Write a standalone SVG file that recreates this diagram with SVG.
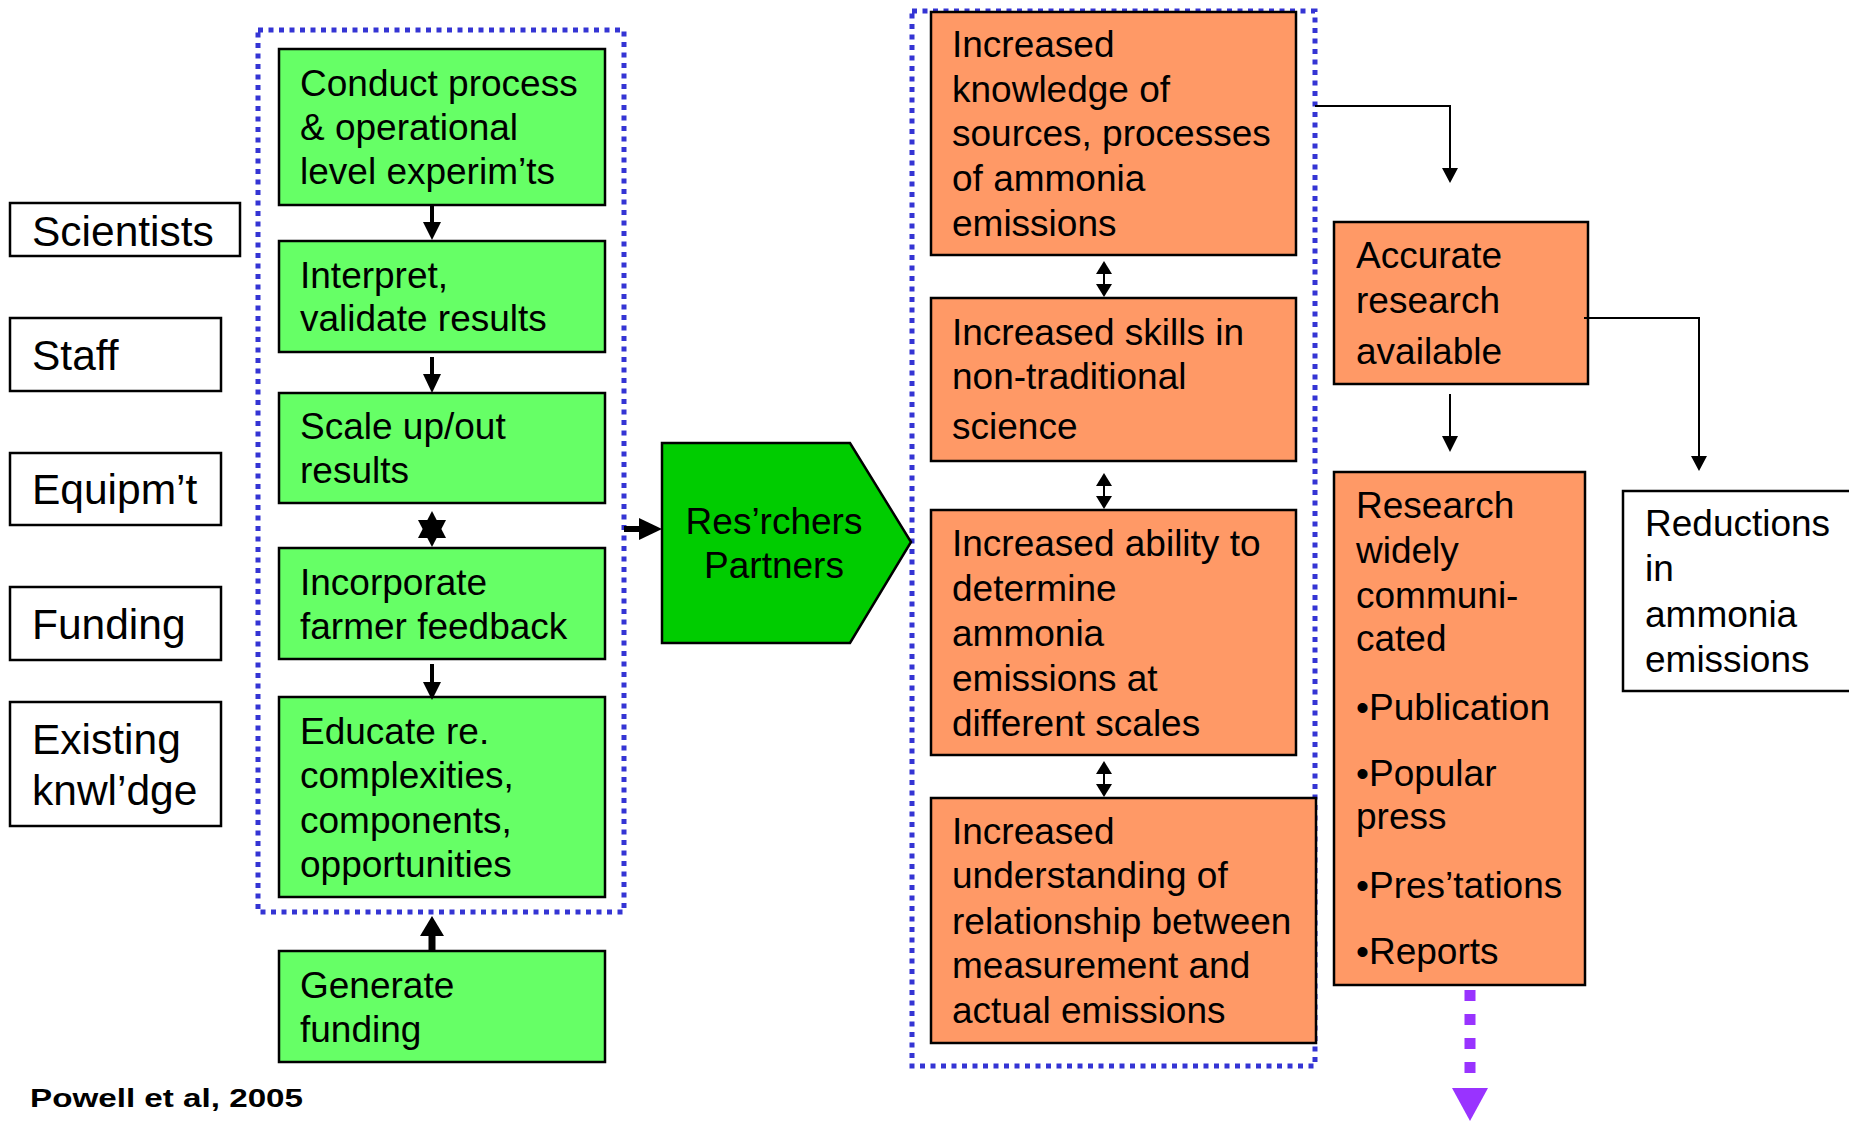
<svg xmlns="http://www.w3.org/2000/svg" width="1849" height="1121" viewBox="0 0 1849 1121">
<style>
text{font-family:"Liberation Sans",Arial,sans-serif;fill:#000}
.t{font-size:37px}
.tl{font-size:42.5px}
.g{fill:#66FF66;stroke:#000;stroke-width:2.5}
.o{fill:#FF9966;stroke:#000;stroke-width:2.5}
.w{fill:#fff;stroke:#000;stroke-width:2.5}
.dot{fill:none;stroke:#3434D4;stroke-width:5;stroke-dasharray:5 5.5}
.thin{fill:none;stroke:#000;stroke-width:2}
.thk{fill:none;stroke:#000;stroke-width:4}
.ah{fill:#000}
</style>
<rect width="1849" height="1121" fill="#fff"/>
<g id="groups">
<rect class="dot" x="258" y="30" width="366" height="882"/>
<rect class="dot" x="912" y="11" width="403" height="1055"/>
</g>
<g id="n-scientists"><rect class="w" x="10" y="203" width="230" height="53"/><text class="tl" x="32" y="246">Scientists</text></g>
<g id="n-staff"><rect class="w" x="10" y="318" width="211" height="73"/><text class="tl" x="32" y="370">Staff</text></g>
<g id="n-equip"><rect class="w" x="10" y="453" width="211" height="72"/><text class="tl" x="32" y="504">Equipm’t</text></g>
<g id="n-funding"><rect class="w" x="10" y="587" width="211" height="73"/><text class="tl" x="32" y="639">Funding</text></g>
<g id="n-existing"><rect class="w" x="10" y="702" width="211" height="124"/><text class="tl" x="32" y="754">Existing</text><text class="tl" x="32" y="805">knwl’dge</text></g>

<g id="n-conduct"><rect class="g" x="279" y="49" width="326" height="156"/><text class="t" x="300" y="96">Conduct process</text><text class="t" x="300" y="140">&amp; operational</text><text class="t" x="300" y="184">level experim’ts</text></g>
<g id="n-interpret"><rect class="g" x="279" y="241" width="326" height="111"/><text class="t" x="300" y="288">Interpret,</text><text class="t" x="300" y="331">validate results</text></g>
<g id="n-scale"><rect class="g" x="279" y="393" width="326" height="110"/><text class="t" x="300" y="439">Scale up/out</text><text class="t" x="300" y="483">results</text></g>
<g id="n-incorp"><rect class="g" x="279" y="548" width="326" height="111"/><text class="t" x="300" y="595">Incorporate</text><text class="t" x="300" y="639">farmer feedback</text></g>
<g id="n-educate"><rect class="g" x="279" y="697" width="326" height="200"/><text class="t" x="300" y="744">Educate re.</text><text class="t" x="300" y="788">complexities,</text><text class="t" x="300" y="833">components,</text><text class="t" x="300" y="877">opportunities</text></g>
<g id="n-generate"><rect class="g" x="279" y="951" width="326" height="111"/><text class="t" x="300" y="998">Generate</text><text class="t" x="300" y="1042">funding</text></g>

<g id="n-researchers"><polygon points="662,443 850,443 911,542 850,643 662,643" fill="#00CC00" stroke="#000" stroke-width="2.5"/><text class="t" x="774" y="534" text-anchor="middle">Res’rchers</text><text class="t" x="774" y="578" text-anchor="middle">Partners</text></g>

<g id="n-knowledge"><rect class="o" x="931" y="12" width="365" height="243"/><text class="t" x="952" y="57">Increased</text><text class="t" x="952" y="102">knowledge of</text><text class="t" x="952" y="146">sources, processes</text><text class="t" x="952" y="191">of ammonia</text><text class="t" x="952" y="236">emissions</text></g>
<g id="n-skills"><rect class="o" x="931" y="298" width="365" height="163"/><text class="t" x="952" y="345">Increased skills in</text><text class="t" x="952" y="389">non-traditional</text><text class="t" x="952" y="439">science</text></g>
<g id="n-ability"><rect class="o" x="931" y="510" width="365" height="245"/><text class="t" x="952" y="556">Increased ability to</text><text class="t" x="952" y="601">determine</text><text class="t" x="952" y="646">ammonia</text><text class="t" x="952" y="691">emissions at</text><text class="t" x="952" y="736">different scales</text></g>
<g id="n-understanding"><rect class="o" x="931" y="798" width="385" height="245"/><text class="t" x="952" y="844">Increased</text><text class="t" x="952" y="888">understanding of</text><text class="t" x="952" y="934">relationship between</text><text class="t" x="952" y="978">measurement and</text><text class="t" x="952" y="1023">actual emissions</text></g>

<g id="n-accurate"><rect class="o" x="1334" y="222" width="254" height="162"/><text class="t" x="1356" y="268">Accurate</text><text class="t" x="1356" y="313">research</text><text class="t" x="1356" y="364">available</text></g>
<g id="n-research"><rect class="o" x="1334" y="472" width="251" height="513"/><text class="t" x="1356" y="518">Research</text><text class="t" x="1356" y="563">widely</text><text class="t" x="1356" y="608">communi-</text><text class="t" x="1356" y="651">cated</text><text class="t" x="1356" y="720">•Publication</text><text class="t" x="1356" y="786">•Popular</text><text class="t" x="1356" y="829">press</text><text class="t" x="1356" y="898">•Pres’tations</text><text class="t" x="1356" y="964">•Reports</text></g>
<g id="n-reductions"><rect class="w" x="1623" y="491" width="240" height="200"/><text class="t" x="1645" y="536">Reductions</text><text class="t" x="1645" y="581">in</text><text class="t" x="1645" y="627">ammonia</text><text class="t" x="1645" y="672">emissions</text></g>

<g id="connectors">
<line class="thk" x1="432" y1="205" x2="432" y2="225"/><polygon class="ah" points="423,222 441,222 432,240"/>
<line class="thk" x1="432" y1="357" x2="432" y2="377"/><polygon class="ah" points="423,374 441,374 432,393"/>
<polygon class="ah" points="432,511 418,538 446,538"/><polygon class="ah" points="418,520 446,520 432,547"/>
<line class="thk" x1="432" y1="664" x2="432" y2="684"/><polygon class="ah" points="423,682 441,682 432,700"/>
<line stroke="#000" stroke-width="7" x1="432" y1="951" x2="432" y2="930"/><polygon class="ah" points="420,936 444,936 432,916"/>
<line stroke="#000" stroke-width="6" x1="624" y1="529" x2="642" y2="529"/><polygon class="ah" points="639,518 639,540 662,529"/>
<line class="thin" x1="1104" y1="266" x2="1104" y2="292"/><polygon class="ah" points="1104,261 1096,274 1112,274"/><polygon class="ah" points="1096,284 1112,284 1104,297"/>
<line class="thin" x1="1104" y1="478" x2="1104" y2="504"/><polygon class="ah" points="1104,473 1096,486 1112,486"/><polygon class="ah" points="1096,496 1112,496 1104,509"/>
<line class="thin" x1="1104" y1="766" x2="1104" y2="792"/><polygon class="ah" points="1104,761 1096,774 1112,774"/><polygon class="ah" points="1096,784 1112,784 1104,797"/>
<polyline class="thin" points="1315,106 1450,106 1450,170"/><polygon class="ah" points="1442,168 1458,168 1450,183"/>
<line class="thin" x1="1450" y1="394" x2="1450" y2="438"/><polygon class="ah" points="1442,436 1458,436 1450,452"/>
<polyline class="thin" points="1584,318 1699,318 1699,458"/><polygon class="ah" points="1691,456 1707,456 1699,471"/>
<line stroke="#9933FF" stroke-width="11" stroke-dasharray="11 13" x1="1470" y1="990" x2="1470" y2="1084"/><polygon fill="#9933FF" points="1452,1088 1488,1088 1470,1121"/>
</g>
<text x="30" y="1107" font-family="'DejaVu Sans',sans-serif" font-weight="bold" font-size="26" textLength="273" lengthAdjust="spacingAndGlyphs">Powell et al, 2005</text>
</svg>
